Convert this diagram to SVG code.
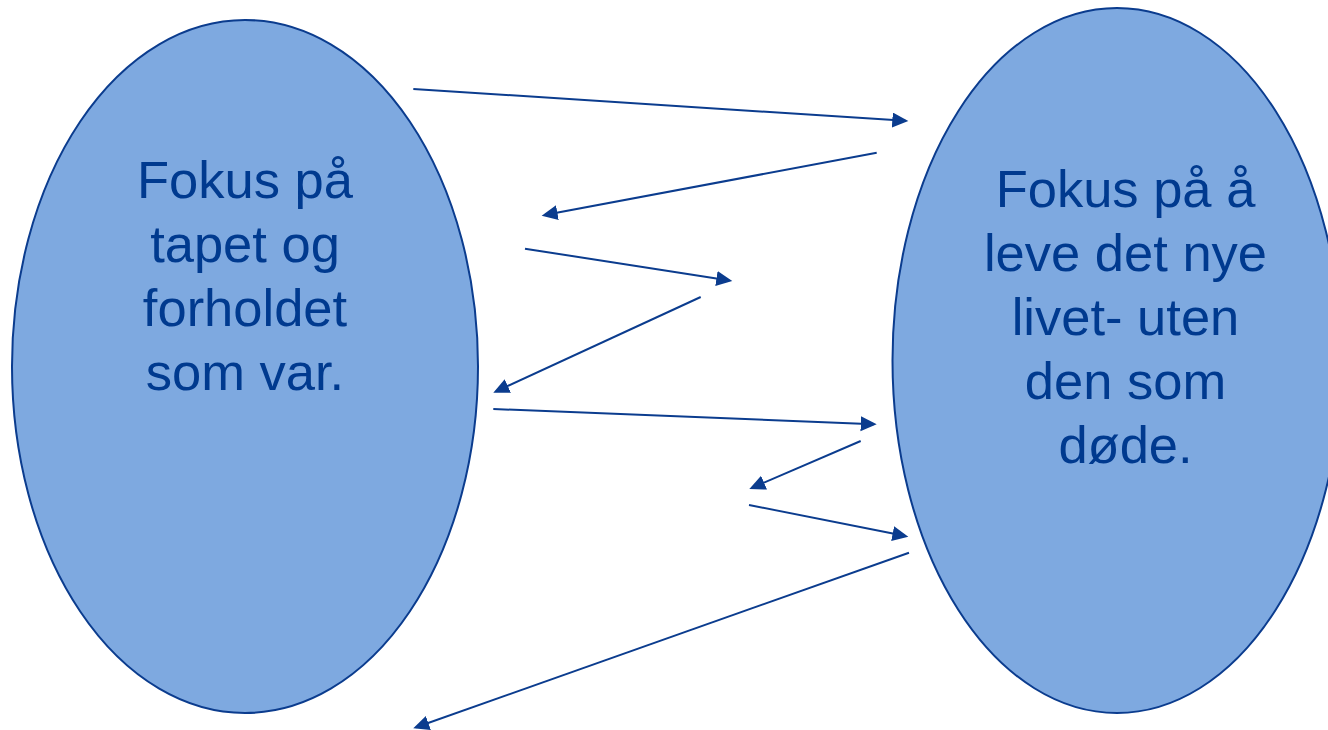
<svg xmlns="http://www.w3.org/2000/svg" width="1328" height="730" viewBox="0 0 1328 730">
  <style>
    .bubble { fill: #7ea9e0; stroke: #0b3c8e; stroke-width: 2; }
    .label { font-family: "Liberation Sans", Arial, sans-serif; font-size: 52.5px; fill: #003a8f; text-anchor: middle; }
    .arrow { fill: none; stroke: #0b3c8e; stroke-width: 2; marker-end: url(#head); }
  </style>
  <defs>
    <marker id="head" markerUnits="userSpaceOnUse" markerWidth="17" markerHeight="16" refX="13" refY="7.5" orient="auto">
      <path d="M0,0 L16,7.5 L0,15 Z" fill="#0b3c8e"/>
    </marker>
  </defs>
  <rect width="1328" height="730" fill="#ffffff"/>

  <g id="node-loss">
    <ellipse class="bubble" cx="245" cy="366.5" rx="233" ry="346.5"/>
    <text class="label" x="245" y="198">Fokus på</text>
    <text class="label" x="245" y="261.5">tapet og</text>
    <text class="label" x="245" y="325.5">forholdet</text>
    <text class="label" x="245" y="389.5">som var.</text>
  </g>

  <g id="node-new-life">
    <ellipse class="bubble" cx="1117" cy="360.5" rx="224.5" ry="352.5"/>
    <text class="label" x="1125.5" y="207">Fokus på å</text>
    <text class="label" x="1125.5" y="271">leve det nye</text>
    <text class="label" x="1125.5" y="335">livet- uten</text>
    <text class="label" x="1125.5" y="399">den som</text>
    <text class="label" x="1125.5" y="463">døde.</text>
  </g>

  <g id="connectors">
    <path class="arrow" d="M413.3,89 L905.3,120.8"/>
    <path class="arrow" d="M876.7,152.7 L544.6,215.1"/>
    <path class="arrow" d="M525,248.7 L729.3,280.5"/>
    <path class="arrow" d="M700.7,297 L496,391.4"/>
    <path class="arrow" d="M493.3,409 L873.7,424.2"/>
    <path class="arrow" d="M860.7,441 L752.1,487.8"/>
    <path class="arrow" d="M749,505 L905.4,536.1"/>
    <path class="arrow" d="M909,552.7 L416.1,727.3"/>
  </g>
</svg>
